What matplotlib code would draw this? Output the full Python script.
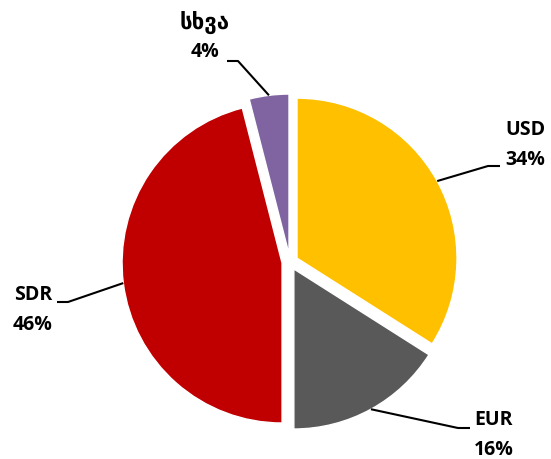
import numpy as np
import matplotlib
matplotlib.use("Agg")
import matplotlib.pyplot as plt

labels = ["USD", "EUR", "SDR", "სხვა"]
values = [34, 16, 46, 4]
colors = ["#FFC000", "#595959", "#C00000", "#8064A2"]

# label layout (pixel coords, image y downward): text centre, elbow points
text_pos = {"USD": (525, 145), "EUR": (494, 435), "SDR": (33, 310), "სხვა": (205, 37)}
elbow = {"USD": [(500, 166), (488, 166)], "EUR": [(470, 428), (458, 428)],
         "SDR": [(57, 302), (68, 302)], "სხვა": [(227, 61), (238, 61)]}

W, H = 551, 459
R = 160
fig = plt.figure(figsize=(W / 100, H / 100), dpi=100)
ax = fig.add_axes([0, 0, 1, 1])

wedges, _ = ax.pie(values, colors=colors, explode=[8] * len(values), startangle=90,
                   counterclock=False, radius=R, center=(290, H - 262),
                   wedgeprops=dict(edgecolor="white", linewidth=1.0))
ax.set_xlim(0, W)
ax.set_ylim(0, H)
ax.set_aspect("auto")
ax.axis("off")

fam = ["Open Sans", "DejaVu Sans"]
for w, lab, v in zip(wedges, labels, values):
    mid = np.deg2rad((w.theta1 + w.theta2) / 2)
    cx, cy = w.center
    sx, sy = cx + w.r * np.cos(mid), cy + w.r * np.sin(mid)
    pts = [(x, H - y) for x, y in elbow[lab]]
    xs = [pts[0][0], pts[1][0], sx]
    ys = [pts[0][1], pts[1][1], sy]
    ax.plot(xs, ys, color="black", lw=1.5, solid_capstyle="butt")
    tx, ty = text_pos[lab]
    georgian = not lab.isascii()
    ax.text(tx, H - ty + 15, lab, ha="center", va="center",
            fontsize=16 if georgian else 14, fontweight="bold", family=fam,
            color="black")
    ax.text(tx, H - ty - 15, f"{v}%", ha="center", va="center",
            fontsize=14, fontweight="bold", family=fam, color="black")

fig.savefig("out.png", dpi=100)
